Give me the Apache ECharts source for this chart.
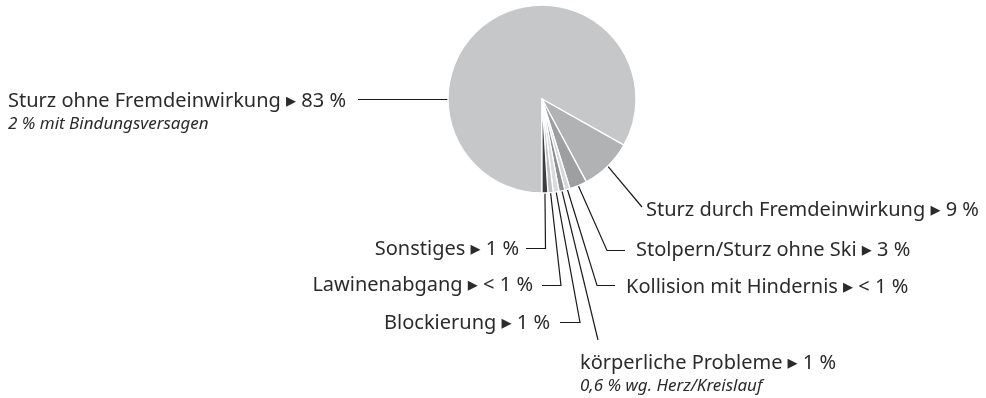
<!DOCTYPE html>
<html>
<head>
<meta charset="utf-8">
<script src="https://cdn.jsdelivr.net/npm/echarts@6/dist/echarts.min.js"></script>
<style>
  html, body { margin: 0; padding: 0; background: #fff; }
  #chart { width: 986px; height: 398px; }
</style>
</head>
<body>
<div id="chart"></div>
<script>
// Unfallursachen (Anteile in %)
const categories = [
  'Sturz ohne Fremdeinwirkung',
  'Sturz durch Fremdeinwirkung',
  'Stolpern/Sturz ohne Ski',
  'Kollision mit Hindernis',
  'körperliche Probleme',
  'Blockierung',
  'Lawinenabgang',
  'Sonstiges'
];
const shares = [83, 9, 3, 0.9, 1, 1, 0.9, 1];
const shareLabels = ['83 %', '9 %', '3 %', '< 1 %', '1 %', '1 %', '< 1 %', '1 %'];
const notes = ['2 % mit Bindungsversagen', '', '', '', '0,6 % wg. Herz/Kreislauf', '', '', ''];

const sliceColors = ['#c6c7c9', '#b1b2b4', '#9e9fa1', '#d6d7d8', '#8e8f91', '#dadbdc', '#c0c1c3', '#3e3e40'];

const CX = 542, CY = 99, R = 94;

// Text anchors and bend points of each leader line
const labelPlacement = [
  { x: 8,   y: 88,  align: 'left',  vAlign: 'top',    path: [[358, 99.5]], fromLeftEdge: true },
  { x: 646, y: 210, align: 'left',  vAlign: 'middle', path: [[642, 207]] },
  { x: 636, y: 250, align: 'left',  vAlign: 'middle', path: [[607, 250.5], [625, 250.5]] },
  { x: 626, y: 287, align: 'left',  vAlign: 'middle', path: [[597, 285.5], [615, 285.5]] },
  { x: 580, y: 350, align: 'left',  vAlign: 'top',    path: [[598, 340]] },
  { x: 550, y: 323, align: 'right', vAlign: 'middle', path: [[580, 322.5], [560, 322.5]] },
  { x: 533, y: 285, align: 'right', vAlign: 'middle', path: [[561, 285.5], [542, 285.5]] },
  { x: 519, y: 249, align: 'right', vAlign: 'middle', path: [[545.5, 248.5], [526, 248.5]] }
];

const FONT = '"Noto Sans", "DejaVu Sans", sans-serif';

const data = categories.map((name, i) => ({
  name: name,
  value: shares[i],
  itemStyle: { color: sliceColors[i] }
}));

const chart = echarts.init(document.getElementById('chart'), null, { renderer: 'canvas' });
chart.setOption({
  animation: false,
  backgroundColor: '#ffffff',
  series: [{
    type: 'pie',
    center: [CX, CY],
    radius: R,
    startAngle: 270,
    clockwise: true,
    avoidLabelOverlap: false,
    silent: true,
    itemStyle: { borderColor: '#ffffff', borderWidth: 1.3 },
    label: {
      show: true,
      position: 'outside',
      color: '#2b2b2b',
      fontFamily: FONT,
      formatter: function (p) {
        const i = p.dataIndex;
        let s = '{m|' + categories[i] + ' \u25B8 ' + shareLabels[i] + '}';
        if (notes[i]) s += '\n{i|' + notes[i] + '}';
        return s;
      },
      rich: {
        m: { fontFamily: FONT, fontSize: 20, lineHeight: 26, color: '#2b2b2b' },
        i: { fontFamily: FONT, fontSize: 17, fontStyle: 'italic', lineHeight: 20, color: '#2b2b2b' }
      }
    },
    labelLine: {
      show: true,
      length: 10,
      length2: 10,
      lineStyle: { color: '#1a1a1a', width: 1.2 }
    },
    labelLayout: function (p) {
      const pl = labelPlacement[p.dataIndex];
      const start = pl.fromLeftEdge ? [CX - R, CY + 0.5] : p.labelLinePoints[0];
      return {
        x: pl.x,
        y: pl.y,
        align: pl.align,
        verticalAlign: pl.vAlign,
        labelLinePoints: [start].concat(pl.path)
      };
    },
    data: data
  }]
});
</script>
</body>
</html>
